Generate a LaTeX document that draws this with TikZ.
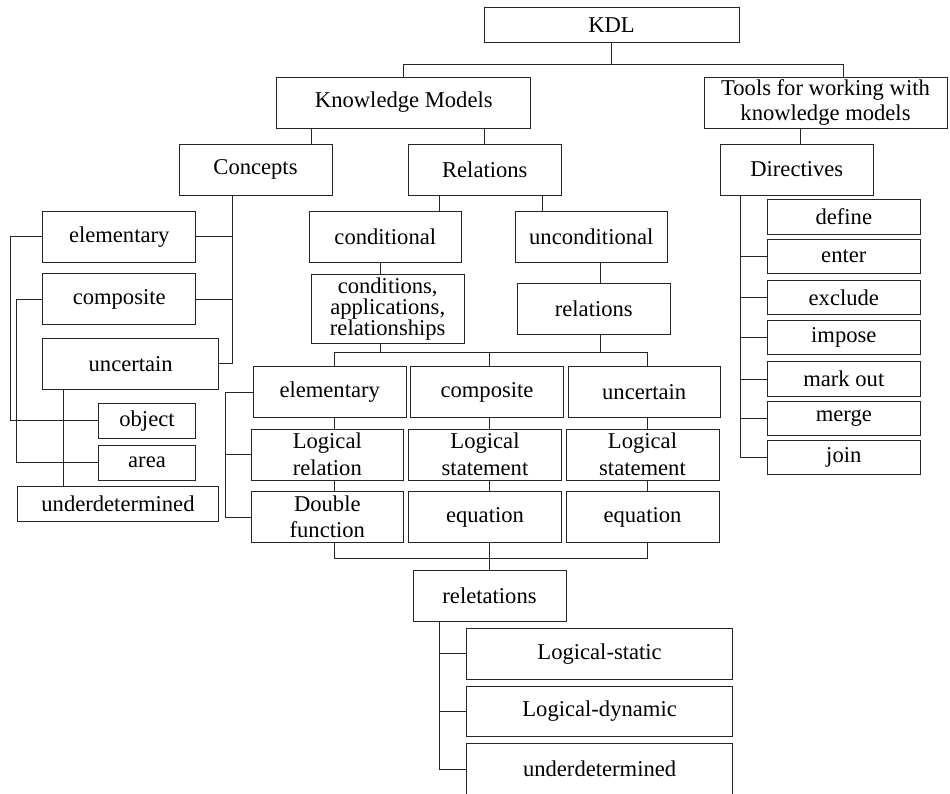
\documentclass[tikz,border=0pt]{standalone}
\usepackage{fontspec}
\setmainfont{Liberation Serif}
\usetikzlibrary{calc}
\begin{document}
\begin{tikzpicture}[x=1pt,y=-1pt,
  box/.style={draw=black!85, line width=0.9pt, inner sep=0pt, align=center, fill=white,
    font=\fontsize{22.6}{26.5}\selectfont},
  link/.style={draw=black!85, line width=0.9pt}]
\fill[white] (0,0) rectangle (950,794);
\useasboundingbox (0,0) rectangle (950,794);
% top levels
\node[box,minimum width=255,minimum height=35] (kdl) at (611.5,24.8) {KDL};
\node[box,minimum width=254,minimum height=51] (km) at (403.8,102.5) {Knowledge Models};
\node[box,minimum width=243,minimum height=51,font=\fontsize{22.6}{24.5}\selectfont] (tools) at (825.5,102.7) {Tools for working with\\knowledge models};
\node[box,minimum width=153,minimum height=51] (concepts) at (255.5,169.5) {Concepts};
\node[box,minimum width=152.3,minimum height=51] (relations) at (484.8,169.5) {Relations};
\node[box,minimum width=152.3,minimum height=51] (directives) at (796.8,169.5) {Directives};
% concepts branch
\node[box,minimum width=153,minimum height=50.5] (celem) at (119.2,236.8) {elementary};
\node[box,minimum width=153,minimum height=50.7] (ccomp) at (119.2,299.3) {composite};
\node[box,minimum width=176,minimum height=50.8] (cunc) at (130.7,363.9) {uncertain};
\node[box,minimum width=97.4,minimum height=35] (object) at (147,420.8) {object};
\node[box,minimum width=97.4,minimum height=35] (area) at (147,462.5) {area};
\node[box,minimum width=201.4,minimum height=35] (cund) at (118,504.2) {underdetermined};
% relations branch
\node[box,minimum width=152.7,minimum height=50.6] (cond) at (385.3,237) {conditional};
\node[box,minimum width=152.7,minimum height=50.6] (uncond) at (591.3,237) {unconditional};
\node[box,minimum width=152.7,minimum height=69.3,font=\fontsize{22.6}{21}\selectfont] (condapp) at (387.7,308.7) {conditions,\\applications,\\relationships};
\node[box,minimum width=153,minimum height=51] (rels) at (593.8,308.8) {relations};
\node[box,minimum width=152.7,minimum height=50.6] (relem) at (329.7,392) {elementary};
\node[box,minimum width=152.7,minimum height=50.6] (rcomp) at (487,392) {composite};
\node[box,minimum width=151.7,minimum height=50.6] (runc) at (644.2,392) {uncertain};
\node[box,minimum width=152.7,minimum height=51] (logrel) at (327.3,454.5) {Logical\\relation};
\node[box,minimum width=152.7,minimum height=51] (logst1) at (485,454.5) {Logical\\statement};
\node[box,minimum width=153,minimum height=51] (logst2) at (642.5,454.5) {Logical\\statement};
\node[box,minimum width=152.7,minimum height=50.6] (dbl) at (327.3,517) {Double\\function};
\node[box,minimum width=152.7,minimum height=50.6] (eq1) at (485,517) {equation};
\node[box,minimum width=153,minimum height=50.6] (eq2) at (642.5,517) {equation};
\node[box,minimum width=153,minimum height=50.8] (relet) at (489.5,595.9) {reletations};
\node[box,minimum width=266.2,minimum height=50.7] (lstatic) at (599.6,653.7) {Logical-static};
\node[box,minimum width=266.2,minimum height=50.7] (ldyn) at (599.6,711.5) {Logical-dynamic};
\node[box,minimum width=266.2,minimum height=50.7] (rund) at (599.6,769) {underdetermined};
% directives
\node[box,minimum width=152.3,minimum height=34.5] (define) at (843.8,217) {define};
\node[box,minimum width=152.3,minimum height=34.5] (enter) at (843.8,256.5) {enter};
\node[box,minimum width=152.3,minimum height=34.5] (exclude) at (843.8,297.5) {exclude};
\node[box,minimum width=152.3,minimum height=34.5] (impose) at (843.8,337.5) {impose};
\node[box,minimum width=152.3,minimum height=34.5] (markout) at (843.8,379) {mark out};
\node[box,minimum width=152.3,minimum height=34.5] (merge) at (843.8,418.5) {merge};
\node[box,minimum width=152.3,minimum height=34.5] (join) at (843.8,457.5) {join};
% connectors: top
\draw[link] (kdl.south) -- ++(0,22.7);
\draw[link] (km.north) -- ++(0,-12) -| ([xshift=17.5pt]tools.north);
\draw[link] ([xshift=56.2pt]concepts.north) -- ++(0,-16);
\draw[link] (relations.north) -- ++(0,-16);
\draw[link] ([xshift=3.9pt]directives.north) -- ++(0,-16);
% concepts
\draw[link] ([xshift=-23.5pt]concepts.south) |- (cunc.east);
\draw[link] (celem.east) -- ++(36.3,0);
\draw[link] (ccomp.east) -- ++(36.3,0);
\draw[link] (celem.west) -- ++(-32,0) |- (object.west);
\draw[link] (ccomp.west) -- ++(-25.4,0) |- (area.west);
\draw[link] ([xshift=-67.4pt]cunc.south) -- ++(0,97.4);
% relations
\draw[link] ([xshift=-45.8pt]relations.south) -- ++(0,16.7);
\draw[link] ([xshift=57.9pt]relations.south) -- ++(0,16.7);
\draw[link] ([xshift=-4.6pt]cond.south) -- ++(0,11.7);
\draw[link] ([xshift=9.4pt]uncond.south) -- ++(0,21);
\draw[link] ([xshift=-7pt]condapp.south) -- ++(0,9.4);
\draw[link] ([xshift=6.9pt]rels.south) -- ++(0,18.4);
\draw[link] ([xshift=4.6pt]relem.north) -- ++(0,-14) -| ([xshift=2.8pt]runc.north);
\draw[link] ([xshift=2.3pt]rcomp.north) -- ++(0,-14);
\draw[link] ([xshift=4.6pt]relem.south) -- ++(0,11.7);
\draw[link] ([xshift=7pt]logrel.south) -- ++(0,11.7);
\draw[link] ([xshift=2.3pt]rcomp.south) -- ++(0,11.7);
\draw[link] ([xshift=4.3pt]logst1.south) -- ++(0,11.7);
\draw[link] ([xshift=2.8pt]runc.south) -- ++(0,11.7);
\draw[link] ([xshift=4.5pt]logst2.south) -- ++(0,11.7);
\draw[link] ([xshift=7pt]dbl.south) -- ++(0,16) -| ([xshift=4.5pt]eq2.south);
\draw[link] ([xshift=4.3pt]eq1.south) -- ++(0,28.2);
\draw[link] (relem.west) -- ++(-27.6,0) |- (dbl.west);
\draw[link] (logrel.west) -- ++(-25.3,0);
\draw[link] ([xshift=-50.5pt]relet.south) |- (rund.west);
\draw[link] (lstatic.west) -- ++(-27.5,0);
\draw[link] (ldyn.west) -- ++(-27.5,0);
% directives
\draw[link] ([xshift=-56.8pt]directives.south) |- (join.west);
\draw[link] (enter.west) -- ++(-27.7,0);
\draw[link] (exclude.west) -- ++(-27.7,0);
\draw[link] (impose.west) -- ++(-27.7,0);
\draw[link] (markout.west) -- ++(-27.7,0);
\draw[link] (merge.west) -- ++(-27.7,0);
\end{tikzpicture}
\end{document}
